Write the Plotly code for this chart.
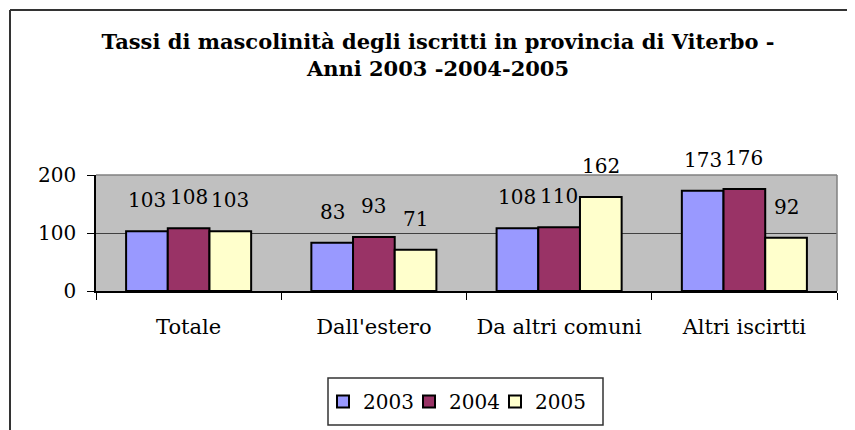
import plotly.graph_objects as go

categories = ["Totale", "Dall'estero", "Da altri comuni", "Altri iscirtti"]
years = ["2003", "2004", "2005"]
values_2003 = [103, 83, 108, 173]
values_2004 = [108, 93, 110, 176]
values_2005 = [103, 71, 162, 92]
colors = ["#9999FF", "#993366", "#FFFFCC"]
y_ticks = [0, 100, 200]
title_text = "Tassi di mascolinità degli iscritti in provincia di Viterbo -<br>Anni 2003 -2004-2005"

series = [values_2003, values_2004, values_2005]

# page body adds an 8px offset; lay out in screen coordinates and compensate
OFF = 8
SCR_W, SCR_H = 855, 430
W, H = SCR_W - OFF, SCR_H - OFF
plot_x0, plot_x1 = 96, 837      # screen px
plot_y0, plot_y1 = 175, 291     # screen px (top, bottom)
L = plot_x0 - OFF
R = (SCR_W - plot_x1)
T = plot_y0 - OFF
B = (SCR_H - plot_y1)
plot_w = plot_x1 - plot_x0
plot_h = plot_y1 - plot_y0
bargap = 0.325
slot = plot_w / len(categories)
bar_w = slot * (1 - bargap) / len(years)

FONT = "DejaVu Serif"

px = lambda x: (x - plot_x0) / plot_w
py = lambda y: (plot_y1 - y) / plot_h

fig = go.Figure()
for k, (yr, vals, col) in enumerate(zip(years, series, colors)):
    fig.add_trace(go.Bar(
        x=categories, y=vals, name=yr,
        marker=dict(color=col, line=dict(color="black", width=2)),
        legendwidth=(41 if k < len(years) - 1 else 60),
    ))

annotations = []
for i, vals in enumerate(series):
    for cat, v in zip(categories, vals):
        annotations.append(dict(
            x=cat, y=v, xref="x", yref="y", text=str(v), showarrow=False,
            xshift=(i - 1) * bar_w, yshift=17, yanchor="bottom",
            font=dict(family=FONT, size=20, color="black"),
        ))

shapes = [
    dict(type="line", xref="paper", yref="paper", x0=0, x1=1, y0=1, y1=1,
         line=dict(color="#808080", width=1.5)),
    dict(type="line", xref="paper", yref="paper", x0=1, x1=1, y0=0, y1=1,
         line=dict(color="#808080", width=1.5)),
    dict(type="line", xref="paper", yref="paper",
         x0=px(10), x1=px(870), y0=py(10), y1=py(10),
         line=dict(color="#333333", width=2)),
    dict(type="line", xref="paper", yref="paper",
         x0=px(10), x1=px(10), y0=py(10), y1=py(440),
         line=dict(color="#333333", width=2)),
    # legend frame
    dict(type="rect", xref="paper", yref="paper",
         x0=px(328), x1=px(603), y0=py(378), y1=py(425),
         line=dict(color="#333333", width=1.5), fillcolor="rgba(0,0,0,0)"),
]

fig.update_layout(
    width=W, height=H,
    margin=dict(l=L, r=R, t=T, b=B, pad=0, autoexpand=False),
    paper_bgcolor="white", plot_bgcolor="#C0C0C0",
    barmode="group", bargap=bargap, bargroupgap=0,
    title=dict(text="<b>" + title_text + "</b>", x=(438 - OFF) / W, xanchor="center",
               y=1 - (49 - OFF) / H, yanchor="middle",
               font=dict(family=FONT, size=21, color="black")),
    font=dict(family=FONT, color="black"),
    showlegend=True,
    legend=dict(orientation="h", x=px(323), xanchor="left", y=py(401.5), yanchor="middle",
                borderwidth=0, bgcolor="rgba(0,0,0,0)",
                font=dict(family=FONT, size=20, color="black"),
                itemwidth=30, tracegroupgap=0, entrywidthmode="pixels"),
    annotations=annotations,
    shapes=shapes,
)
fig.update_xaxes(
    showline=True, linecolor="black", linewidth=1.5,
    ticks="outside", tickson="boundaries", ticklen=7, tickcolor="black", tickwidth=1,
    tickfont=dict(family=FONT, size=21, color="black"),
    showgrid=False, ticklabelstandoff=16,
)
fig.update_yaxes(
    range=[0, 200], tickvals=y_ticks, ticktext=[str(t) for t in y_ticks],
    showline=True, linecolor="black", linewidth=1.5,
    ticks="outside", ticklen=7, tickcolor="black", tickwidth=1,
    tickfont=dict(family=FONT, size=20, color="black"),
    showgrid=True, gridcolor="#404040", gridwidth=1, zeroline=False,
    ticklabelstandoff=7,
)

fig.write_html("out.html")
